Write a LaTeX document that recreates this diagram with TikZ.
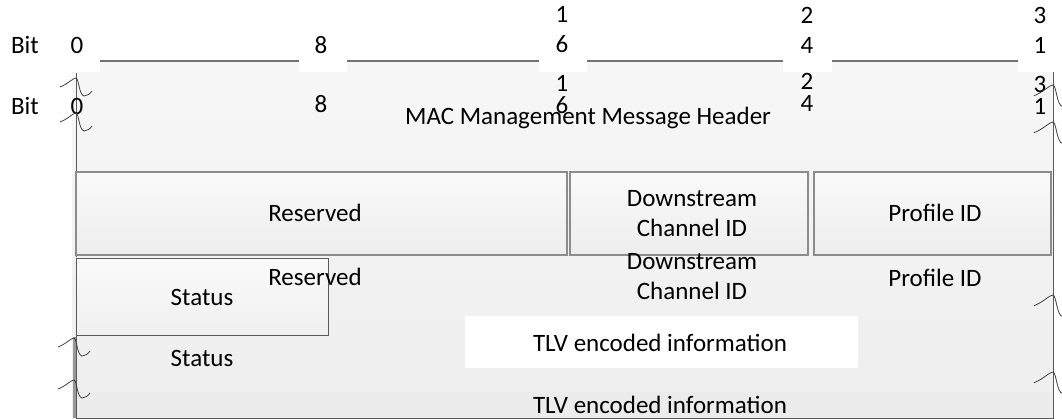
\documentclass[tikz,border=0pt]{standalone}
\usepackage{fontspec}
\setmainfont{Carlito}
\definecolor{bordergray}{HTML}{8C8C8C}
\definecolor{darkline}{HTML}{595959}
\definecolor{bgtop}{HTML}{F7F7F7}
\definecolor{bgbot}{HTML}{EEEEEE}
\definecolor{band}{HTML}{ECECEC}
\begin{document}
\begin{tikzpicture}[x=1pt,y=-1pt,
  font=\fontsize{25}{30}\selectfont,
  txt/.style={inner sep=0pt, anchor=center, align=center},
  tight/.style={txt, font=\fontsize{25}{22}\selectfont},
  fieldbox/.style={draw=bordergray, line width=1.6pt, top color=white!98!black, bottom color=white!93!black},
  rulerline/.style={draw=black!55, line width=1.2pt},
  brk/.pic={\draw[black!75, line width=0.8pt] (-16,9) .. controls (-8,6) and (-3,0) .. (0,0) .. controls (3,1) and (3,17) .. (8,18) .. controls (11,18) and (14,16) .. (16,13);}
]
\useasboundingbox (0,0) rectangle (1062,419);
% background panel
\shade[top color=bgtop, bottom color=bgbot] (72,61) rectangle (1053,418);
\fill[band] (76,392) rectangle (1053,418);
% white patches behind the upper ruler numbers
\fill[white] (0,0) rectangle (100,72);
\fill[white] (299,0) rectangle (347,72);
\fill[white] (539,0) rectangle (587,72);
\fill[white] (783,0) rectangle (832,72);
\fill[white] (1018,0) rectangle (1062,72);
\fill[white] (1053,72) rectangle (1062,419);
% ruler lines
\coordinate (l1a) at (100,61); \coordinate (l1b) at (299,61);
\coordinate (l2a) at (347,61); \coordinate (l2b) at (539,61);
\coordinate (l3a) at (587,61); \coordinate (l3b) at (783,61);
\coordinate (l4a) at (832,61); \coordinate (l4b) at (1018,61);
\draw[rulerline] (l1a) -- (l1b);
\draw[rulerline] (l2a) -- (l2b);
\draw[rulerline] (l3a) -- (l3b);
\draw[rulerline] (l4a) -- (l4b);
% upper ruler labels
\node[txt] (bit1) at (25,45) {Bit};
\node[txt] (n0a) at (77,45) {0};
\node[txt] (n8a) at (321,45) {8};
\node[txt] (n16a) at (562,30) {1\\6};
\node[txt] (n24a) at (807,30) {2\\4};
\node[txt] (n31a) at (1040,30) {3\\1};
% panel borders
\draw[darkline, line width=0.8pt] (76,73) -- (76,418) -- (1053,418) -- (1053,72);
\draw[black!40, line width=3pt] (74.5,337) -- (74.5,418);
% lower ruler labels
\node[txt] (bit2) at (25,106) {Bit};
\node[txt] (n0b) at (77,106) {0};
\node[txt] (n8b) at (321,104) {8};
\node[tight] (n16b) at (562,95) {1\\6};
\node[tight] (n24b) at (807,92) {2\\4};
\node[tight] (n31b) at (1040,95) {3\\1};
% header
\node[txt] (hdr) at (588,118) {MAC Management Message Header};
% field boxes
\draw[fieldbox] (76,172) rectangle (567,255);
\draw[fieldbox] (570,172) rectangle (808,255);
\draw[fieldbox] (814,172) rectangle (1051,255);
\node[txt] (res1) at (315,213) {Reserved};
\node[txt] (dcid1) at (692,214) {Downstream\\Channel ID};
\node[txt] (pid1) at (935,213) {Profile ID};
\draw[darkline, line width=0.8pt, top color=white!98!black, bottom color=white!94!black] (76,258) rectangle (328,335);
\node[txt] (res2) at (315,277) {Reserved};
\node[txt] (dcid2) at (692,277) {Downstream\\Channel ID};
\node[txt] (pid2) at (935,278) {Profile ID};
\node[txt] (st1) at (202,297) {Status};
\node[txt] (st2) at (202,358) {Status};
\fill[white] (465,316) rectangle (858,368);
\node[txt] (tlv1) at (660,343) {TLV encoded information};
\node[txt] (tlv2) at (660,405) {TLV encoded information};
% break marks
\pic at (76,78) {brk};
\pic at (76,113) {brk};
\pic at (74,338) {brk};
\pic at (74,380) {brk};
\pic[scale=1.2] at (1053,85) {brk};
\pic[scale=1.2] at (1053,122) {brk};
\pic[scale=1.2] at (1053,295) {brk};
\pic[scale=1.2] at (1053,372) {brk};
\end{tikzpicture}
\end{document}
